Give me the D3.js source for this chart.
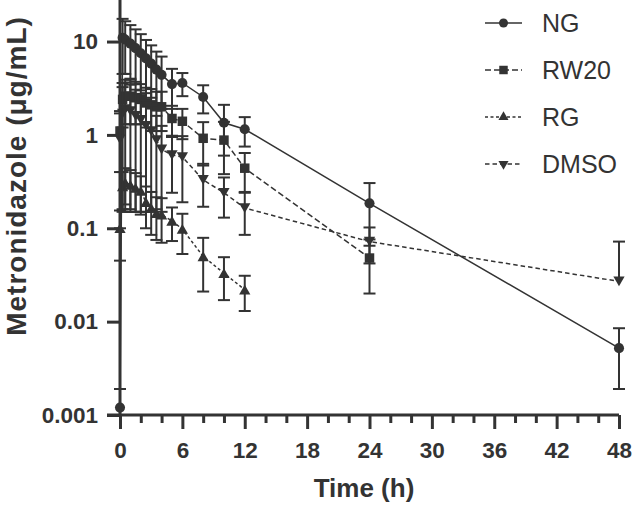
<!DOCTYPE html>
<html>
<head>
<meta charset="utf-8">
<script src="https://cdn.jsdelivr.net/npm/d3@7"></script>
<style>
  body { margin: 0; background: #fff; }
  text { font-family: "Liberation Sans", Arial, sans-serif; fill: #333; }
</style>
</head>
<body>
<div id="chart"></div>
<script>
// sampling times (h)
const times = [0, 0.25, 0.5, 1, 1.5, 2, 2.5, 3, 3.5, 4, 5, 6, 8, 10, 12, 24, 48];

// mean and SD per group (µg/mL)
const ngMean = [0.0012, 11, 10.5, 9.5, 8.5, 7.5, 6.6, 5.8, 5.0, 4.4, 3.5, 3.6, 2.55, 1.35, 1.15, 0.185, 0.0052];
const ngSD = [0.0007, 6.5, 6, 5.5, 5, 4.5, 3.8, 3.3, 2.8, 2.5, 1.6, 1.0, 0.85, 0.75, 0.4, 0.12, 0.0033];
const rw20Mean = [1.1, 2.4, 2.6, 2.6, 2.5, 2.4, 2.2, 2.1, 2.0, 2.0, 1.5, 1.4, 0.92, 0.88, 0.44, 0.048];
const rw20SD = [0.7, 1.2, 1.3, 1.3, 1.2, 1.1, 1.0, 1.0, 0.9, 0.9, 0.55, 0.5, 0.45, 0.5, 0.2, 0.028];
const rgMean = [0.1, 0.28, 0.31, 0.29, 0.27, 0.25, 0.19, 0.165, 0.145, 0.14, 0.12, 0.098, 0.05, 0.033, 0.022];
const rgSD = [0.055, 0.12, 0.13, 0.13, 0.12, 0.11, 0.09, 0.08, 0.07, 0.07, 0.047, 0.045, 0.029, 0.016, 0.009];
const dmsoMean = [0.9, 1.7, 1.9, 1.8, 1.6, 1.45, 1.25, 1.1, 0.88, 0.7, 0.61, 0.58, 0.33, 0.24, 0.165, 0.072, 0.027];
const dmsoSD = [0.8, 1.55, 1.75, 1.65, 1.45, 1.3, 1.1, 0.95, 0.72, 0.55, 0.37, 0.39, 0.16, 0.11, 0.08, 0.03, 0.045];

const seriesNames = ["NG", "RW20", "RG", "DMSO"];
const xTicks = [0, 6, 12, 18, 24, 30, 36, 42, 48];
const xMinorTicks = d3.range(0, 49, 2);
const yTicks = [0.001, 0.01, 0.1, 1, 10];
const yTickLabels = ["0.001", "0.01", "0.1", "1", "10"];

const width = 633, height = 505;
const ink = "#333";

const series = [
  { name: seriesNames[0], mean: ngMean, sd: ngSD, symbol: d3.symbolCircle, size: 80, rot: 0, dash: null },
  { name: seriesNames[1], mean: rw20Mean, sd: rw20SD, symbol: d3.symbolSquare, size: 90, rot: 0, dash: "6,3" },
  { name: seriesNames[2], mean: rgMean, sd: rgSD, symbol: d3.symbolTriangle, size: 55, rot: 0, dash: "3,2.5" },
  { name: seriesNames[3], mean: dmsoMean, sd: dmsoSD, symbol: d3.symbolTriangle, size: 55, rot: 180, dash: "4.5,3" }
];

let svg = d3.select("#chart")
            .append("svg")
            .attr("width", width)
            .attr("height", height);

let x = d3.scaleLinear().domain([0, 48]).range([120, 619]);
let y = d3.scaleLog().domain([0.001, 30]).range([415, -3]);

svg.append("defs").append("clipPath")
   .attr("id", "plotclip")
   .append("rect")
   .attr("x", 100).attr("y", -10)
   .attr("width", 540).attr("height", y(0.001) + 10);

let plot = svg.append("g").attr("clip-path", "url(#plotclip)");

series.forEach((s) => {
  let pts = s.mean.map((m, i) => ({ t: times[i], m: m, sd: s.sd[i] }));
  let g = plot.append("g");

  // error bars: upper always, lower only when mean - SD stays positive (log axis)
  let bars = g.selectAll("g.err").data(pts).enter().append("g");
  bars.append("line")
      .attr("x1", (d) => x(d.t)).attr("x2", (d) => x(d.t))
      .attr("y1", (d) => y(d.m + d.sd))
      .attr("y2", (d) => d.m - d.sd > 0 ? y(d.m - d.sd) : y(d.m))
      .attr("stroke", ink).attr("stroke-width", 2);
  bars.append("line")
      .attr("x1", (d) => x(d.t) - 6).attr("x2", (d) => x(d.t) + 6)
      .attr("y1", (d) => y(d.m + d.sd)).attr("y2", (d) => y(d.m + d.sd))
      .attr("stroke", ink).attr("stroke-width", 2);
  bars.filter((d) => d.m - d.sd > 0)
      .append("line")
      .attr("x1", (d) => x(d.t) - 6).attr("x2", (d) => x(d.t) + 6)
      .attr("y1", (d) => y(d.m - d.sd)).attr("y2", (d) => y(d.m - d.sd))
      .attr("stroke", ink).attr("stroke-width", 2);

  // connecting line
  g.append("path")
   .datum(pts)
   .attr("fill", "none")
   .attr("stroke", ink)
   .attr("stroke-width", 1.5)
   .attr("stroke-dasharray", s.dash)
   .attr("d", d3.line().x((d) => x(d.t)).y((d) => y(d.m)));

  // markers (triangles nudged so their centroid sits on the value)
  g.selectAll("path.pt").data(pts).enter().append("path")
   .attr("class", "pt")
   .attr("d", d3.symbol().type(s.symbol).size(s.size))
   .attr("transform", (d) => `translate(${x(d.t)},${y(d.m) + (s.symbol === d3.symbolTriangle ? (s.rot ? -1.5 : 1.5) : 0)}) rotate(${s.rot})`)
   .attr("fill", ink);
});

// x axis: minor ticks every 2 h, major every 6 h
svg.append("g")
   .attr("transform", `translate(0, ${y(0.001)})`)
   .call(d3.axisBottom(x).tickValues(xMinorTicks.filter((v) => v % 6 !== 0)).tickSize(8).tickFormat(""))
   .call((g) => g.select(".domain").remove())
   .call((g) => g.selectAll("line").attr("stroke", ink).attr("stroke-width", 3));
let xAxis = svg.append("g")
   .attr("transform", `translate(0, ${y(0.001)})`)
   .call(d3.axisBottom(x).tickValues(xTicks).tickSize(14).tickPadding(13).tickFormat(d3.format("d")));
xAxis.select(".domain").remove();
xAxis.selectAll("line").attr("stroke", ink).attr("stroke-width", 3);
xAxis.selectAll("text")
     .style("font-size", "22.5px").style("font-weight", "bold")
     .attr("fill", ink);

// y axis
let yAxis = svg.append("g")
   .attr("transform", `translate(${x(0)}, 0)`)
   .call(d3.axisLeft(y).tickValues(yTicks).tickSize(13).tickPadding(9)
           .tickFormat((d, i) => yTickLabels[i]));
yAxis.select(".domain").remove();
yAxis.selectAll("line").attr("stroke", ink).attr("stroke-width", 3);
yAxis.selectAll("text")
     .style("font-size", "22.5px").style("font-weight", "bold")
     .attr("fill", ink);

// axis lines (x line runs out to the y tick length, like the original)
svg.append("line")
   .attr("x1", x(0) - 13).attr("x2", x(48))
   .attr("y1", y(0.001)).attr("y2", y(0.001))
   .attr("stroke", ink).attr("stroke-width", 3);
svg.append("line")
   .attr("x1", x(0)).attr("x2", x(0))
   .attr("y1", y(0.001)).attr("y2", y(30))
   .attr("stroke", ink).attr("stroke-width", 3);

// axis titles
svg.append("text")
   .attr("x", 364).attr("y", 497)
   .attr("text-anchor", "middle")
   .style("font-size", "26px").style("font-weight", "bold")
   .text("Time (h)");
svg.append("text")
   .attr("transform", "translate(26, 176) rotate(-90)")
   .attr("text-anchor", "middle")
   .style("font-size", "28px").style("font-weight", "bold")
   .style("letter-spacing", "1px")
   .text("Metronidazole (μg/mL)");

// legend
let legend = svg.append("g");
series.forEach((s, i) => {
  let ly = 23 + i * 47;
  legend.append("line")
        .attr("x1", 485).attr("x2", 522).attr("y1", ly).attr("y2", ly)
        .attr("stroke", ink).attr("stroke-width", 1.5)
        .attr("stroke-dasharray", s.dash);
  legend.append("path")
        .attr("d", d3.symbol().type(s.symbol).size(s.size * 0.8))
        .attr("transform", `translate(503.5, ${ly}) rotate(${s.rot})`)
        .attr("fill", ink);
  legend.append("text")
        .attr("x", 542).attr("y", ly)
        .attr("dy", "0.36em")
        .style("font-size", "25px")
        .text(s.name);
});
</script>
</body>
</html>
